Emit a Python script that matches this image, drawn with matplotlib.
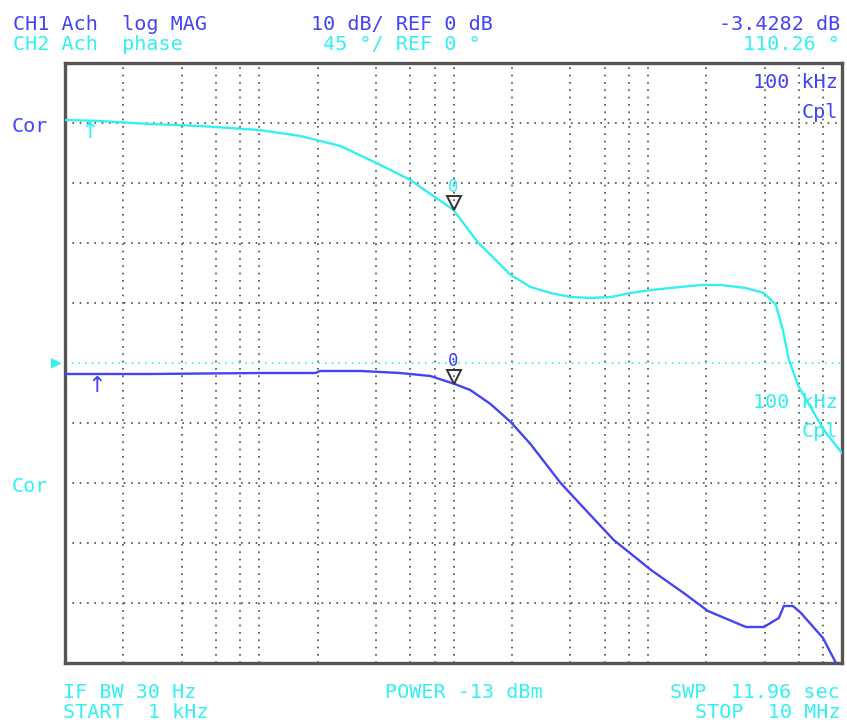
import matplotlib
matplotlib.use("Agg")
import matplotlib.pyplot as plt
import matplotlib.transforms as mtransforms
from matplotlib.ticker import LogLocator, NullFormatter

# CH1 log MAG (dB) trace
mag_freq = [1e3, 2.74e3, 10e3, 19.4e3, 20.6e3, 33.2e3, 53.3e3, 76e3, 100e3, 122e3,
            155e3, 197e3, 249e3, 356e3, 479e3, 668e3, 1.04e6, 1.53e6, 2.04e6, 3.2e6,
            3.96e6, 4.73e6, 5.02e6, 5.59e6, 6.15e6, 7.98e6, 9.31e6]
mag_db = [-1.83, -1.83, -1.67, -1.67, -1.33, -1.33, -1.67, -2.17, -3.43, -4.5,
          -6.83, -9.83, -13.5, -20.0, -24.5, -29.5, -34.5, -38.33, -41.33, -44.0,
          -44.0, -42.5, -40.5, -40.5, -41.67, -45.83, -50.0]

# CH2 phase (deg) trace
ph_freq = [1e3, 1.51e3, 2.74e3, 4.97e3, 10e3, 16.3e3, 26.2e3, 42.1e3, 60e3, 76e3,
           100e3, 133e3, 197e3, 249e3, 316e3, 401e3, 508e3, 645e3, 817e3, 1.04e6,
           1.48e6, 1.88e6, 2.38e6, 3.2e6, 3.96e6, 4.57e6, 4.96e6, 5.33e6, 6.0e6,
           7.17e6, 8.27e6, 10e6]
ph_deg = [182.25, 181.5, 179.25, 177.75, 174.75, 170.25, 162.75, 148.5, 137.25, 126.75,
          114.75, 90.75, 66.0, 57.0, 52.5, 49.5, 48.75, 49.5, 52.5, 54.75,
          57.0, 58.5, 58.5, 56.25, 52.5, 43.5, 24.75, 2.25, -18.0,
          -37.5, -52.5, -67.5]

marker_freq = 100e3
marker_mag = -3.4282
marker_ph = 114.75

BLUE = "#4444f2"
CYAN = "#35f0f0"
GRID = "#4a4a4a"
MONO = "DejaVu Sans Mono"

fig = plt.figure(figsize=(8.47, 7.22), dpi=100)
ax = fig.add_axes([65 / 847, 59 / 722, 777 / 847, 600 / 722])
ax.set_xscale("log")
ax.set_xlim(1e3, 1e7)
ax.set_ylim(-50, 50)

# graticule: decades plus 2, 4, 6, 8
ax.xaxis.set_major_locator(LogLocator(base=10, numticks=10))
ax.xaxis.set_minor_locator(LogLocator(base=10, subs=[2, 4, 6, 8], numticks=50))
ax.xaxis.set_minor_formatter(NullFormatter())
ax.set_yticks([-40, -30, -20, -10, 10, 20, 30, 40])
ax.grid(True, which="both", axis="both", color=GRID, linestyle=(0, (1, 3.4)), linewidth=1.2)
ax.axhline(0, color=CYAN, linestyle=(0, (1, 3)), linewidth=1.2, zorder=2)
ax.tick_params(which="both", length=0, labelleft=False, labelbottom=False)
for s in ax.spines.values():
    s.set_color("#555555")
    s.set_linewidth(2.4)

ax.plot(mag_freq, mag_db, color=BLUE, linewidth=1.7, zorder=4)

ax2 = ax.twinx()
ax2.set_ylim(-225, 225)
ax2.set_xlim(1e3, 1e7)
ax2.tick_params(which="both", length=0, labelright=False)
for s in ax2.spines.values():
    s.set_visible(False)
ax2.plot(ph_freq, ph_deg, color=CYAN, linewidth=1.7, zorder=4)

# markers at 100 kHz
up1 = mtransforms.offset_copy(ax.transData, fig=fig, y=7, units="dots")
up2 = mtransforms.offset_copy(ax2.transData, fig=fig, y=7, units="dots")
ax.plot([marker_freq], [marker_mag], marker="v", markersize=10, mfc="none",
        mec="#333333", mew=1.4, transform=up1, zorder=5)
ax2.plot([marker_freq], [marker_ph], marker="v", markersize=10, mfc="none",
         mec="#333333", mew=1.4, transform=up2, zorder=5)
ax.annotate("0", (marker_freq, marker_mag), xytext=(0, 23), textcoords="offset pixels",
            ha="center", va="center", color=BLUE, fontsize=12.5, family=MONO)
ax2.annotate("0", (marker_freq, marker_ph), xytext=(0, 23), textcoords="offset pixels",
             ha="center", va="center", color=CYAN, fontsize=12.5, family=MONO)

# start arrows
ax.annotate("↑", (1e3, mag_db[0]), xytext=(32, -12), textcoords="offset pixels",
            ha="center", va="center", color=BLUE, fontsize=16, family="DejaVu Sans")
ax2.annotate("↑", (1e3, ph_deg[0]), xytext=(25, -12), textcoords="offset pixels",
             ha="center", va="center", color=CYAN, fontsize=16, family="DejaVu Sans")

# reference position triangle
fig.text(51 / 847, 1 - 362 / 722, "▶", color=CYAN, fontsize=10, ha="left", va="center",
         family="DejaVu Sans")


def label(x, y, s, color, ha="left", size=14.5):
    fig.text(x / 847, 1 - y / 722, s, color=color, ha=ha, va="center",
             fontsize=size, family=MONO)


label(13, 24, "CH1 Ach  log MAG", BLUE)
label(13, 44, "CH2 Ach  phase", CYAN)
label(311, 24, "10 dB/ REF 0 dB", BLUE)
label(311, 44, " 45 °/ REF 0 °", CYAN)
label(840, 24, "-3.4282 dB", BLUE, ha="right")
label(840, 44, "110.26 °", CYAN, ha="right")

label(12, 127, "Cor", BLUE)
label(12, 487, "Cor", CYAN)
label(838, 82, "100 kHz", BLUE, ha="right")
label(838, 112, "Cpl", BLUE, ha="right")
label(838, 402, "100 kHz", CYAN, ha="right")
label(838, 432, "Cpl", CYAN, ha="right")

label(63, 693, "IF BW 30 Hz", CYAN)
label(63, 712, "START  1 kHz", CYAN)
label(385, 693, "POWER -13 dBm", CYAN)
label(840, 693, "SWP  11.96 sec", CYAN, ha="right")
label(840, 712, "STOP  10 MHz", CYAN, ha="right")

fig.savefig("out.png", dpi=100)
